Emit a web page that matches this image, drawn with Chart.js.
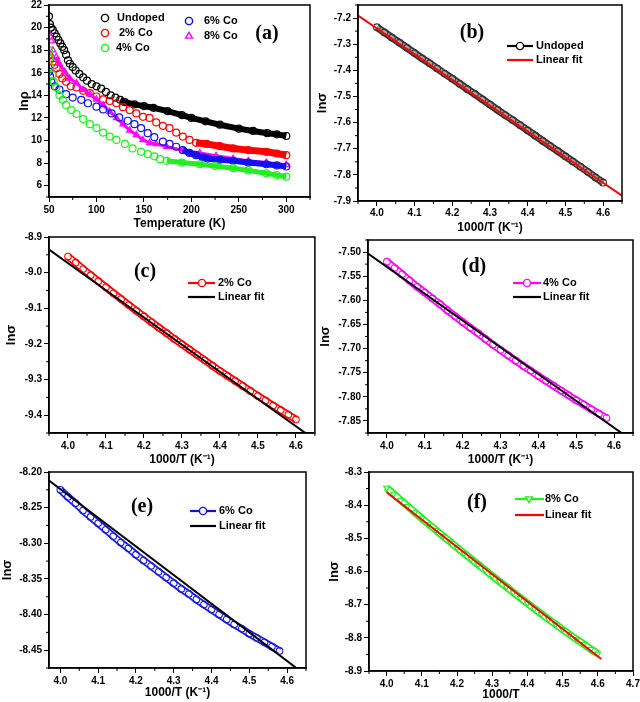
<!DOCTYPE html>
<html>
<head>
<meta charset="utf-8">
<script src="https://cdn.jsdelivr.net/npm/chart.js@4.4.1/dist/chart.umd.min.js"></script>
<style>
  html, body { margin: 0; padding: 0; background: #fff; overflow: hidden; }
  body { width: 640px; height: 702px; position: relative; }
  canvas { position: absolute; }
</style>
</head>
<body>
<canvas id="pa"></canvas>
<canvas id="pb"></canvas>
<canvas id="pc"></canvas>
<canvas id="pd"></canvas>
<canvas id="pe"></canvas>
<canvas id="pf"></canvas>
<script>
// ---- panel (a): ln(rho) vs temperature ----
const undopedT = [50, 51, 52, 54, 56, 58, 60, 62, 64, 66, 68, 70, 72, 75, 78, 82, 86, 90, 95, 100, 105, 110, 115, 120, 125, 130, 140, 150, 160, 175, 190, 200, 215, 230, 250, 265, 280, 290, 300];
const undopedLn = [21.0, 20.3, 20.0, 19.8, 19.5, 19.2, 18.9, 18.6, 18.3, 18.0, 17.6, 17.1, 16.8, 16.5, 16.2, 15.9, 15.6, 15.3, 15.0, 14.8, 14.6, 14.3, 14.0, 13.8, 13.6, 13.4, 13.2, 13.05, 12.9, 12.6, 12.25, 12.0, 11.7, 11.4, 11.05, 10.85, 10.65, 10.55, 10.4];
const co2T = [50, 52, 54, 56, 58, 61, 64, 68, 73, 79, 86, 93, 100, 107, 114, 121, 128, 135, 142, 149, 156, 163, 170, 177, 184, 191, 198, 205, 216, 230, 244, 260, 279, 290, 300];
const co2Ln = [17.6, 17.3, 17.0, 16.7, 16.4, 15.9, 15.5, 15.2, 14.8, 14.7, 14.4, 14.2, 13.9, 13.65, 13.5, 13.3, 12.95, 12.7, 12.4, 12.1, 12.0, 11.6, 11.3, 11.1, 10.7, 10.35, 10.05, 9.8, 9.7, 9.5, 9.3, 9.15, 9.0, 8.85, 8.7];
const co4T = [50, 50.7, 51.4, 53.5, 55, 57.7, 61, 64.7, 68, 73.5, 79, 86, 93, 100, 107, 114, 121, 130, 138, 147, 154, 161, 167, 174, 190, 209, 225, 244, 260, 279, 290, 300];
const co4Ln = [18.0, 17.3, 16.5, 15.8, 15.2, 14.7, 14.0, 13.6, 13.15, 12.7, 12.35, 11.9, 11.45, 11.1, 10.7, 10.35, 10.05, 9.7, 9.3, 9.0, 8.8, 8.6, 8.35, 8.2, 8.05, 7.9, 7.75, 7.55, 7.35, 7.1, 6.95, 6.8];
const co6T = [50, 51, 52.5, 56, 61, 68, 75, 84, 91, 100, 107, 116, 124, 133, 140, 147, 154, 161, 170, 177, 184, 191, 198, 205, 212, 217, 230, 244, 260, 279, 290, 300];
const co6Ln = [16.1, 15.7, 15.2, 14.8, 14.5, 14.1, 13.8, 13.6, 13.3, 13.0, 12.75, 12.4, 12.05, 11.75, 11.45, 11.1, 10.65, 10.3, 9.9, 9.7, 9.45, 9.15, 8.9, 8.7, 8.5, 8.4, 8.3, 8.2, 8.05, 7.9, 7.8, 7.7];
const co8T = [50, 52.5, 54, 57.7, 61, 66.5, 71.8, 79, 86, 93, 100, 107, 114, 121, 128, 135, 142, 149, 156, 163, 174, 191, 209, 226, 244, 260, 279, 300];
const co8Ln = [19.5, 18.8, 18.0, 17.4, 16.8, 16.1, 15.5, 15.1, 14.5, 14.1, 13.65, 13.15, 12.55, 12.0, 11.45, 10.9, 10.5, 10.05, 9.8, 9.7, 9.45, 9.15, 8.9, 8.65, 8.4, 8.2, 8.05, 7.85];
const tempTicks = [50, 100, 150, 200, 250, 300];
const rhoTicks = [6, 8, 10, 12, 14, 16, 18, 20, 22];

// ---- panels (b)-(f): ln(sigma) vs 1000/T ----
const invTicks = [4.0, 4.1, 4.2, 4.3, 4.4, 4.5, 4.6];
const invTicksF = [4.0, 4.1, 4.2, 4.3, 4.4, 4.5, 4.6, 4.7];

const xUndoped = [4.00, 4.02, 4.04, 4.06, 4.08, 4.10, 4.12, 4.14, 4.16, 4.18, 4.20, 4.22, 4.24, 4.26, 4.28, 4.30, 4.32, 4.34, 4.36, 4.38, 4.40, 4.42, 4.44, 4.46, 4.48, 4.50, 4.52, 4.54, 4.56, 4.58, 4.60];
const sigUndoped = [-7.235, -7.255, -7.275, -7.294, -7.314, -7.334, -7.354, -7.373, -7.393, -7.413, -7.432, -7.452, -7.472, -7.491, -7.511, -7.531, -7.551, -7.571, -7.590, -7.610, -7.630, -7.650, -7.670, -7.690, -7.709, -7.729, -7.749, -7.769, -7.789, -7.810, -7.830];
const fitUndopedX = [3.95, 4.65];
const fitUndopedY = [-7.19, -7.88];
const sigTicksB = [-7.9, -7.8, -7.7, -7.6, -7.5, -7.4, -7.3, -7.2];

const xCo2 = [4.00, 4.02, 4.04, 4.06, 4.08, 4.10, 4.12, 4.14, 4.16, 4.18, 4.20, 4.22, 4.24, 4.26, 4.28, 4.30, 4.32, 4.34, 4.36, 4.38, 4.40, 4.42, 4.44, 4.46, 4.48, 4.50, 4.52, 4.54, 4.56, 4.58, 4.60];
const sigCo2 = [-8.955, -8.972, -8.990, -9.007, -9.024, -9.041, -9.058, -9.074, -9.091, -9.107, -9.123, -9.139, -9.155, -9.170, -9.186, -9.201, -9.216, -9.231, -9.246, -9.261, -9.276, -9.290, -9.304, -9.318, -9.332, -9.346, -9.359, -9.373, -9.386, -9.399, -9.412];
const fitCo2X = [3.95, 4.625];
const fitCo2Y = [-8.935, -9.45];
const sigTicksC = [-9.4, -9.3, -9.2, -9.1, -9.0, -8.9];

const xCo4 = [4.00, 4.02, 4.04, 4.06, 4.08, 4.10, 4.12, 4.14, 4.16, 4.18, 4.20, 4.22, 4.24, 4.26, 4.28, 4.30, 4.32, 4.34, 4.36, 4.38, 4.40, 4.42, 4.44, 4.46, 4.48, 4.50, 4.52, 4.54, 4.56, 4.58];
const sigCo4 = [-7.520, -7.533, -7.546, -7.559, -7.572, -7.584, -7.596, -7.608, -7.621, -7.633, -7.645, -7.657, -7.668, -7.680, -7.692, -7.703, -7.714, -7.725, -7.736, -7.746, -7.757, -7.767, -7.777, -7.787, -7.797, -7.807, -7.816, -7.826, -7.835, -7.844];
const fitCo4X = [3.95, 4.618];
const fitCo4Y = [-7.503, -7.874];
const sigTicksD = [-7.85, -7.80, -7.75, -7.70, -7.65, -7.60, -7.55, -7.50];

const xCo6 = [4.00, 4.02, 4.04, 4.06, 4.08, 4.10, 4.12, 4.14, 4.16, 4.18, 4.20, 4.22, 4.24, 4.26, 4.28, 4.30, 4.32, 4.34, 4.36, 4.38, 4.40, 4.42, 4.44, 4.46, 4.48, 4.50, 4.52, 4.54, 4.56, 4.58];
const sigCo6 = [-8.225, -8.235, -8.244, -8.254, -8.263, -8.272, -8.281, -8.290, -8.299, -8.307, -8.316, -8.324, -8.332, -8.340, -8.348, -8.356, -8.364, -8.371, -8.379, -8.386, -8.393, -8.400, -8.407, -8.414, -8.420, -8.427, -8.433, -8.439, -8.445, -8.451];
const fitCo6X = [3.97, 4.622];
const fitCo6Y = [-8.212, -8.474];
const sigTicksE = [-8.45, -8.40, -8.35, -8.30, -8.25, -8.20];

const xCo8 = [4.00, 4.02, 4.04, 4.06, 4.08, 4.10, 4.12, 4.14, 4.16, 4.18, 4.20, 4.22, 4.24, 4.26, 4.28, 4.30, 4.32, 4.34, 4.36, 4.38, 4.40, 4.42, 4.44, 4.46, 4.48, 4.50, 4.52, 4.54, 4.56, 4.58, 4.60];
const sigCo8 = [-8.348, -8.366, -8.385, -8.403, -8.422, -8.440, -8.458, -8.475, -8.493, -8.510, -8.528, -8.545, -8.562, -8.579, -8.596, -8.613, -8.630, -8.646, -8.663, -8.680, -8.696, -8.712, -8.728, -8.744, -8.759, -8.775, -8.790, -8.805, -8.819, -8.834, -8.848];
const fitCo8X = [4.0, 4.61];
const fitCo8Y = [-8.361, -8.864];
const sigTicksF = [-8.9, -8.8, -8.7, -8.6, -8.5, -8.4, -8.3];

const SANS = '"Liberation Sans", Arial, sans-serif';
const SERIF = '"Liberation Serif", "Times New Roman", serif';
Chart.defaults.font.family = SANS;
Chart.defaults.color = '#000';

function pts(xs, ys) {
  return xs.map((x, i) => ({ x: x, y: ys[i] }));
}

function drawMarker(ctx, type, x, y, r, color, fill) {
  ctx.beginPath();
  if (type === 'triangle') {
    ctx.moveTo(x, y - r); ctx.lineTo(x + r * 0.95, y + r * 0.6); ctx.lineTo(x - r * 0.95, y + r * 0.6); ctx.closePath();
  } else if (type === 'triangleDown') {
    ctx.moveTo(x, y + r); ctx.lineTo(x + r * 0.95, y - r * 0.6); ctx.lineTo(x - r * 0.95, y - r * 0.6); ctx.closePath();
  } else {
    ctx.arc(x, y, r, 0, Math.PI * 2);
  }
  ctx.fillStyle = fill;
  ctx.fill();
  ctx.strokeStyle = color;
  ctx.lineWidth = 1.4;
  ctx.stroke();
}

function minorValues(s) {
  const t = s.ticks.map(k => k.value);
  const step = t[1] - t[0];
  const out = [];
  for (let v = t[0] - step / 2; v >= s.min - 1e-9; v -= step) out.push(v);
  for (let i = 0; i < t.length - 1; i++) out.push((t[i] + t[i + 1]) / 2);
  for (let v = t[t.length - 1] + step / 2; v <= s.max + 1e-9; v += step) out.push(v);
  return out;
}

// frame, minor ticks, legend and panel letter
function makeDeco(box, cfg) {
  return {
    id: 'deco',
    afterDraw(chart) {
      const { ctx, chartArea: a } = chart;
      ctx.save();
      ctx.strokeStyle = '#000';
      ctx.lineWidth = 1.5;
      ctx.strokeRect(a.left, a.top, a.right - a.left, a.bottom - a.top);

      ctx.lineWidth = 1;
      ctx.beginPath();
      minorValues(chart.scales.x).forEach(v => {
        const p = chart.scales.x.getPixelForValue(v);
        ctx.moveTo(p, a.bottom); ctx.lineTo(p, a.bottom + 3);
      });
      minorValues(chart.scales.y).forEach(v => {
        const p = chart.scales.y.getPixelForValue(v);
        ctx.moveTo(a.left - 3, p); ctx.lineTo(a.left, p);
      });
      ctx.stroke();

      cfg.legend.forEach(it => {
        const y = it.y - box.y;
        if (it.line) {
          ctx.beginPath();
          ctx.strokeStyle = it.color;
          ctx.lineWidth = 2.2;
          ctx.moveTo(it.line[0] - box.x, y);
          ctx.lineTo(it.line[1] - box.x, y);
          ctx.stroke();
        }
        if (it.marker) drawMarker(ctx, it.marker, it.mx - box.x, y, 3.6, it.color, it.fill || 'rgba(0,0,0,0)');
        ctx.font = 'bold 11px ' + SANS;
        ctx.textAlign = 'left';
        ctx.textBaseline = 'middle';
        ctx.fillStyle = '#000';
        ctx.fillText(it.text, it.tx - box.x, y);
      });

      ctx.font = 'bold 20px ' + SERIF;
      ctx.textAlign = 'center';
      ctx.textBaseline = 'middle';
      ctx.fillStyle = '#000';
      ctx.fillText(cfg.label[0], cfg.label[1] - box.x, cfg.label[2] - box.y);
      ctx.restore();
    }
  };
}

function makePanel(id, box, plot, cfg) {
  const cv = document.getElementById(id);
  cv.width = box.w;
  cv.height = box.h;
  cv.style.left = box.x + 'px';
  cv.style.top = box.y + 'px';
  const tickFont = { size: 10, weight: 'bold' };
  const titleFont = { size: 12, weight: 'bold' };
  return new Chart(cv, {
    type: 'scatter',
    data: { datasets: cfg.datasets },
    options: {
      responsive: false,
      animation: false,
      events: [],
      layout: { padding: { left: 0, bottom: 0, top: plot.t - box.y, right: box.x + box.w - plot.r } },
      plugins: { legend: { display: false }, tooltip: { enabled: false } },
      scales: {
        x: {
          type: 'linear', min: cfg.xMin, max: cfg.xMax,
          afterBuildTicks: s => { s.ticks = cfg.xTicks.map(v => ({ value: v })); },
          afterFit: s => { s.height = box.y + box.h - plot.b; },
          ticks: { font: tickFont, color: '#000', padding: cfg.xTickPad || 2, maxRotation: 0, autoSkip: false, callback: v => v.toFixed(cfg.xDec) },
          grid: { drawOnChartArea: false, tickLength: 5, color: '#000', lineWidth: 1 },
          border: { color: '#000', width: 1.5 },
          title: { display: true, text: cfg.xTitle, font: titleFont, color: '#000', padding: { top: 0, bottom: cfg.xTitlePad } }
        },
        y: {
          type: 'linear', min: cfg.yMin, max: cfg.yMax,
          afterBuildTicks: s => { s.ticks = cfg.yTicks.map(v => ({ value: v })); },
          afterFit: s => { s.width = plot.l - box.x; },
          ticks: { font: tickFont, color: '#000', padding: 2, autoSkip: false, callback: v => v.toFixed(cfg.yDec) },
          grid: { drawOnChartArea: false, tickLength: 5, color: '#000', lineWidth: 1 },
          border: { color: '#000', width: 1.5 },
          title: { display: true, text: cfg.yTitle, font: { size: 13, weight: 'bold' }, color: '#000', padding: { top: cfg.yTitlePad, bottom: 0 } }
        }
      }
    },
    plugins: [makeDeco(box, cfg)]
  });
}

// dense measurement region drawn as a thick band
function band(from, color) {
  return { borderColor: c => (c.p0.parsed.x >= from ? color : 'rgba(0,0,0,0)') };
}

function seriesA(xs, ys, color, style, from, width) {
  return {
    data: pts(xs, ys), showLine: true, borderColor: color, borderWidth: width,
    segment: band(from, color),
    pointStyle: style, pointRadius: 3.5, pointBorderWidth: 1.2,
    pointBorderColor: color, pointBackgroundColor: 'rgba(0,0,0,0)'
  };
}

// densely packed open symbols: coloured tube, light core, symbols on top
function tube(xs, ys, color, core, style) {
  const d = pts(xs, ys);
  return [
    {
      data: d, showLine: false, pointStyle: style || 'circle', pointRadius: 3.3, pointBorderWidth: 1.1,
      pointRotation: style === 'triangle' ? 180 : 0,
      pointBorderColor: color, pointBackgroundColor: 'rgba(0,0,0,0)'
    },
    { data: d, showLine: true, borderColor: core, borderWidth: 4, pointRadius: 0 },
    { data: d, showLine: true, borderColor: color, borderWidth: 7.5, pointRadius: 0 }
  ];
}

function fitSet(xs, ys, color) {
  return { data: pts(xs, ys), showLine: true, borderColor: color, borderWidth: 2, pointRadius: 0 };
}

const INV = '1000/T (K\u207B\u00B9)';

makePanel('pa', { x: 0, y: -6, w: 320, h: 242 }, { l: 49, t: 5, r: 310, b: 197 }, {
  xMin: 50, xMax: 325, xTicks: tempTicks, xDec: 0, xTitle: 'Temperature (K)', xTitlePad: 5.5,
  yMin: 5, yMax: 22, yTicks: rhoTicks, yDec: 0, yTitle: 'ln\u03C1', yTitlePad: 17,
  datasets: [
    seriesA(co4T, co4Ln, '#22ee22', 'circle', 168, 5),
    seriesA(co6T, co6Ln, '#1010f0', 'circle', 185, 6),
    seriesA(co8T, co8Ln, '#ff00ff', 'triangle', 55, 3),
    seriesA(co2T, co2Ln, '#ff0000', 'circle', 203, 7),
    seriesA(undopedT, undopedLn, '#000000', 'circle', 125, 6)
  ],
  legend: [
    { marker: 'circle', color: '#000', mx: 105, tx: 117, y: 18, text: 'Undoped' },
    { marker: 'circle', color: '#f00', mx: 105, tx: 119, y: 33, text: '2% Co' },
    { marker: 'circle', color: '#2e2', mx: 105, tx: 116, y: 48, text: '4% Co' },
    { marker: 'circle', color: '#00f', mx: 189, tx: 204, y: 21, text: '6% Co' },
    { marker: 'triangle', color: '#f0f', mx: 189, tx: 204, y: 36, text: '8% Co' }
  ],
  label: ['(a)', 267, 34]
});

makePanel('pb', { x: 312, y: -6, w: 340, h: 242 }, { l: 358, t: 5, r: 622, b: 201 }, {
  xMin: 3.95, xMax: 4.65, xTicks: invTicks, xDec: 1, xTickPad: 1, xTitle: INV, xTitlePad: 1.5,
  yMin: -7.9, yMax: -7.15, yTicks: sigTicksB, yDec: 1, yTitle: 'ln\u03C3', yTitlePad: 3,
  datasets: [fitSet(fitUndopedX, fitUndopedY, '#ff0000')].concat(tube(xUndoped, sigUndoped, '#333', '#a8a8a8')),
  legend: [
    { line: [507, 533], marker: 'circle', mx: 520, color: '#000', fill: '#fff', tx: 536, y: 46, text: 'Undoped' },
    { line: [507, 533], color: '#f00', tx: 536, y: 60, text: 'Linear fit' }
  ],
  label: ['(b)', 472, 33]
});

makePanel('pc', { x: 0, y: 224, w: 320, h: 244 }, { l: 49, t: 237, r: 315, b: 433 }, {
  xMin: 3.95, xMax: 4.65, xTicks: invTicks, xDec: 1, xTitle: INV, xTitlePad: 0.8,
  yMin: -9.45, yMax: -8.9, yTicks: sigTicksC, yDec: 1, yTitle: 'ln\u03C3', yTitlePad: 4,
  datasets: [fitSet(fitCo2X, fitCo2Y, '#000')].concat(tube(xCo2, sigCo2, '#ff0000', '#fff')),
  legend: [
    { line: [188, 215], marker: 'circle', mx: 202, color: '#f00', fill: '#fff', tx: 218, y: 283, text: '2% Co' },
    { line: [188, 215], color: '#000', tx: 218, y: 297, text: 'Linear fit' }
  ],
  label: ['(c)', 145, 272]
});

makePanel('pd', { x: 314, y: 224, w: 340, h: 244 }, { l: 368, t: 240, r: 633, b: 433 }, {
  xMin: 3.95, xMax: 4.65, xTicks: invTicks, xDec: 1, xTitle: INV, xTitlePad: 0.8,
  yMin: -7.875, yMax: -7.475, yTicks: sigTicksD, yDec: 2, yTitle: 'ln\u03C3', yTitlePad: 4,
  datasets: [fitSet(fitCo4X, fitCo4Y, '#000')].concat(tube(xCo4, sigCo4, '#ff00ff', '#fff')),
  legend: [
    { line: [513, 541], marker: 'circle', mx: 527, color: '#f0f', fill: '#fff', tx: 543, y: 283, text: '4% Co' },
    { line: [513, 541], color: '#000', tx: 543, y: 297, text: 'Linear fit' }
  ],
  label: ['(d)', 474, 267]
});

makePanel('pe', { x: 0, y: 458, w: 320, h: 244 }, { l: 49, t: 472, r: 306, b: 668 }, {
  xMin: 3.97, xMax: 4.65, xTicks: invTicks, xDec: 1, xTitle: INV, xTitlePad: 1.8,
  yMin: -8.475, yMax: -8.2, yTicks: sigTicksE, yDec: 2, yTitle: 'ln\u03C3', yTitlePad: 0,
  datasets: [fitSet(fitCo6X, fitCo6Y, '#000')].concat(tube(xCo6, sigCo6, '#1a1ae0', '#fff')),
  legend: [
    { line: [190, 216], marker: 'circle', mx: 203, color: '#11d', fill: '#fff', tx: 219, y: 511, text: '6% Co' },
    { line: [190, 216], color: '#000', tx: 219, y: 526, text: 'Linear fit' }
  ],
  label: ['(e)', 142, 507]
});

makePanel('pf', { x: 314, y: 458, w: 340, h: 244 }, { l: 369, t: 472, r: 633, b: 671 }, {
  xMin: 3.95, xMax: 4.7, xTicks: invTicksF, xDec: 1, xTitle: '1000/T', xTitlePad: 0,
  yMin: -8.9, yMax: -8.3, yTicks: sigTicksF, yDec: 1, yTitle: 'ln\u03C3', yTitlePad: 13,
  datasets: [fitSet(fitCo8X, fitCo8Y, '#ff0000')].concat(tube(xCo8, sigCo8, '#22ee22', '#fff', 'triangle')),
  legend: [
    { line: [515, 544], marker: 'triangleDown', mx: 529, color: '#2e2', fill: '#fff', tx: 545, y: 499, text: '8% Co' },
    { line: [515, 544], color: '#f00', tx: 545, y: 515, text: 'Linear fit' }
  ],
  label: ['(f)', 477, 503]
});
</script>
</body>
</html>
